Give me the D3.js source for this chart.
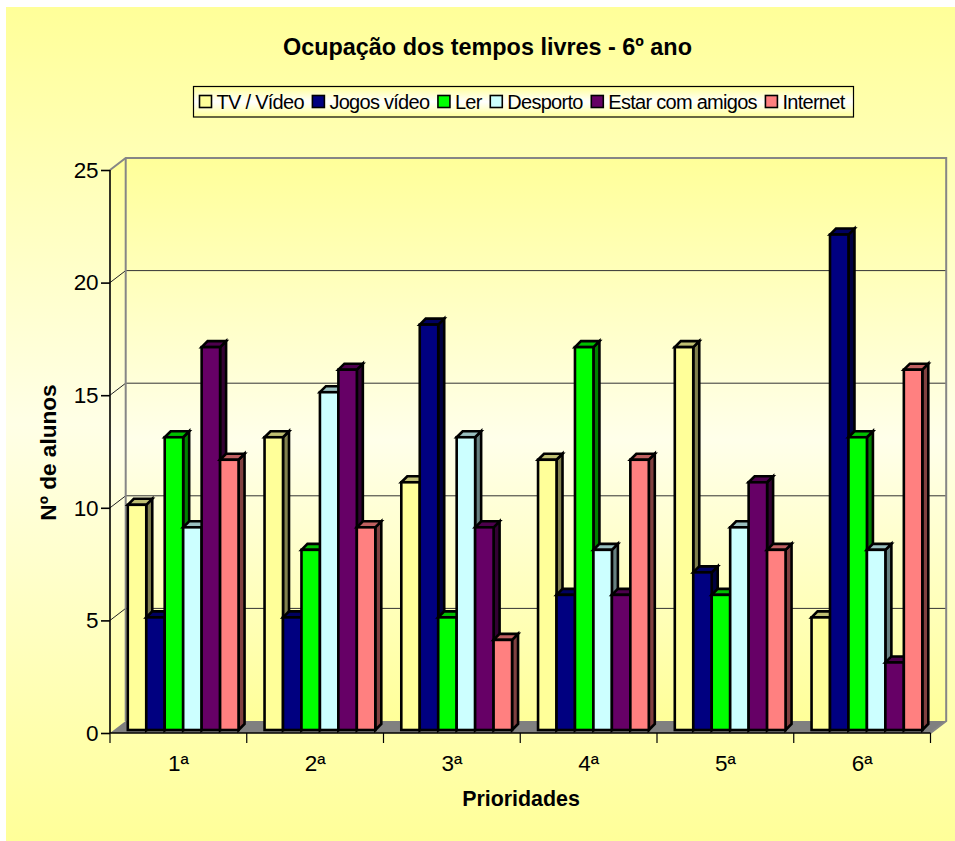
<!DOCTYPE html>
<html>
<head>
<meta charset="utf-8">
<script src="https://cdn.jsdelivr.net/npm/d3@7"></script>
<style>
html,body{margin:0;padding:0;background:#fff;}
svg{display:block;}
text{font-family:"Liberation Sans",Arial,sans-serif;fill:#000;}
</style>
</head>
<body>
<svg id="c" width="955" height="841"></svg>
<script>
const titleText = "Ocupação dos tempos livres - 6º ano";
const xTitle = "Prioridades";
const yTitle = "Nº de alunos";
const categories = ["1ª","2ª","3ª","4ª","5ª","6ª"];
const seriesNames = ["TV / Vídeo","Jogos vídeo","Ler","Desporto","Estar com amigos","Internet"];
const tvVideo  = [10,13,11,12,17,5];
const jogos    = [5,5,18,6,7,22];
const ler      = [13,8,5,17,6,13];
const desporto = [9,15,13,8,9,8];
const amigos   = [17,16,9,6,11,3];
const internet = [12,9,4,12,8,16];
const seriesValues = [tvVideo,jogos,ler,desporto,amigos,internet];
const colors = ["#FFFF99","#000080","#00FF00","#CCFFFF","#660066","#FF8080"];
const yTicks = [0,5,10,15,20,25];

const svg = d3.select("#c");
const defs = svg.append("defs");
function vGrad(id, stops){
  const g = defs.append("linearGradient").attr("id",id).attr("x1",0).attr("x2",0).attr("y1",0).attr("y2",1);
  stops.forEach(s=>g.append("stop").attr("offset",s[0]).attr("stop-color",s[1]));
}
vGrad("outer",[[0,"#FFFF99"],[0.5,"#FFFFE6"],[1,"#FFFF99"]]);
vGrad("wall",[[0,"#FFFF99"],[0.5,"#FFFFEA"],[1,"#FFFF99"]]);
vGrad("leg",[[0,"#FFFF99"],[0.5,"#FFFFFF"],[1,"#FFFF99"]]);

// geometry
const fx0=110, fx1=930.5, fy0=733, fy1=170, depthX=15.7, depthY=12;
const barDX=6, barDY=6, barOffX=4.8, barOffY=3;

svg.append("rect").attr("x",6).attr("y",7).attr("width",949).attr("height",834).attr("fill","url(#outer)");

const x = d3.scaleBand().domain(categories).range([fx0,fx1]);
const y = d3.scaleLinear().domain([0,25]).range([fy0,fy1]);
const inner = d3.scaleBand().domain(seriesNames).range([13,x.bandwidth()-13]);

// walls
const pts = a=>a.map(p=>p.join(",")).join(" ");
svg.append("polygon").attr("points",pts([[fx0,fy0],[fx0+depthX,fy0-depthY],[fx0+depthX,fy1-depthY],[fx0,fy1]]))
  .attr("fill","url(#wall)");
svg.append("rect").attr("x",fx0+depthX).attr("y",fy1-depthY).attr("width",fx1-fx0).attr("height",fy0-fy1)
  .attr("fill","url(#wall)");
svg.append("polygon").attr("points",pts([[fx0,fy0],[fx0+depthX,fy0-depthY],[fx1+depthX,fy0-depthY],[fx1,fy0]]))
  .attr("fill","#808080");

// gridlines
const grid = svg.append("g");
yTicks.filter(t=>t>0&&t<25).forEach(t=>{
  grid.append("line").attr("x1",fx0+depthX).attr("x2",fx1+depthX).attr("y1",y(t)-depthY).attr("y2",y(t)-depthY)
    .attr("stroke","#333").attr("stroke-width",1);
  grid.append("line").attr("x1",fx0).attr("x2",fx0+depthX).attr("y1",y(t)).attr("y2",y(t)-depthY)
    .attr("stroke","#222").attr("stroke-width",1);
});
// wall borders
svg.append("polyline").attr("fill","none").attr("stroke","#868686").attr("stroke-width",2)
  .attr("points",pts([[fx0,fy1],[fx0+depthX,fy1-depthY],[fx1+depthX,fy1-depthY],[fx1+depthX,fy0-depthY],[fx1,fy0]]));
svg.append("line").attr("stroke","#868686").attr("stroke-width",2)
  .attr("x1",fx0+depthX).attr("x2",fx0+depthX).attr("y1",fy1-depthY).attr("y2",fy0-depthY);

// bars
const barsG = svg.append("g");
const shade = (c,k)=>{const r=d3.color(c);return d3.rgb(r.r*k,r.g*k,r.b*k).formatHex();};
categories.forEach((c,ci)=>{
  seriesNames.forEach((s,si)=>{
    const v = seriesValues[si][ci];
    const l = x(c)+inner(s)+barOffX, r = l+inner.bandwidth();
    const b = y(0)-barOffY, t = y(v)-barOffY;
    const g = barsG.append("g").attr("stroke","#000").attr("stroke-width",2.6).attr("stroke-linejoin","miter");
    g.append("polygon").attr("points",pts([[r,b],[r+barDX,b-barDY],[r+barDX,t-barDY],[r,t]]))
      .attr("fill",shade(colors[si],0.5));
    g.append("polygon").attr("points",pts([[l,t],[l+barDX,t-barDY],[r+barDX,t-barDY],[r,t]]))
      .attr("fill",shade(colors[si],0.75));
    g.append("rect").attr("x",l).attr("y",t).attr("width",r-l).attr("height",b-t).attr("fill",colors[si]);
  });
});

// axes
const yAxis = d3.axisLeft(y).tickValues(yTicks).tickSize(9).tickPadding(3).tickFormat(d3.format("d"));
const yG = svg.append("g").attr("transform",`translate(${fx0},0)`).call(yAxis);
yG.selectAll("path,line").attr("stroke","#000").attr("stroke-width",1.6);
yG.select("path").attr("d",`M0,${fy0}V${fy1}`);
yG.selectAll("text").attr("font-size",22.5).attr("font-family",'"Liberation Sans",Arial,sans-serif').attr("letter-spacing",-0.4);

const xEdges = categories.map(c=>x(c)).concat([fx1]);
const xAxisG = svg.append("g");
xAxisG.append("line").attr("x1",fx0).attr("x2",fx1).attr("y1",fy0).attr("y2",fy0).attr("stroke","#000").attr("stroke-width",1.6);
xEdges.forEach(e=>xAxisG.append("line").attr("x1",e).attr("x2",e).attr("y1",fy0).attr("y2",fy0+10).attr("stroke","#000").attr("stroke-width",1.2));
categories.forEach(c=>xAxisG.append("text").attr("x",x(c)+x.bandwidth()/2).attr("y",771)
  .attr("text-anchor","middle").attr("font-size",22.5).text(c));

// titles
svg.append("text").attr("x",487.5).attr("y",55).attr("text-anchor","middle")
  .attr("font-size",23.4).attr("font-weight","bold").text(titleText);
svg.append("text").attr("x",521).attr("y",806).attr("text-anchor","middle")
  .attr("font-size",21.4).attr("font-weight","bold").text(xTitle);
svg.append("text").attr("transform","translate(56,452.5) rotate(-90)").attr("text-anchor","middle")
  .attr("font-size",22.6).attr("font-weight","bold").text(yTitle);

// legend
const lg = svg.append("g");
lg.append("rect").attr("x",193.5).attr("y",86.5).attr("width",660).attr("height",30.5)
  .attr("fill","url(#leg)").attr("stroke","#000").attr("stroke-width",1.2);
let lx = 199.5;
seriesNames.forEach((s,i)=>{
  lg.append("rect").attr("x",lx).attr("y",95.5).attr("width",12).attr("height",12)
    .attr("fill",colors[i]).attr("stroke","#000").attr("stroke-width",1.6);
  const t = lg.append("text").attr("x",lx+17).attr("y",108.5).attr("font-size",20).attr("letter-spacing",-0.72).text(s);
  lx += 17 + t.node().getComputedTextLength() + 8.6;
});
</script>
</body>
</html>
